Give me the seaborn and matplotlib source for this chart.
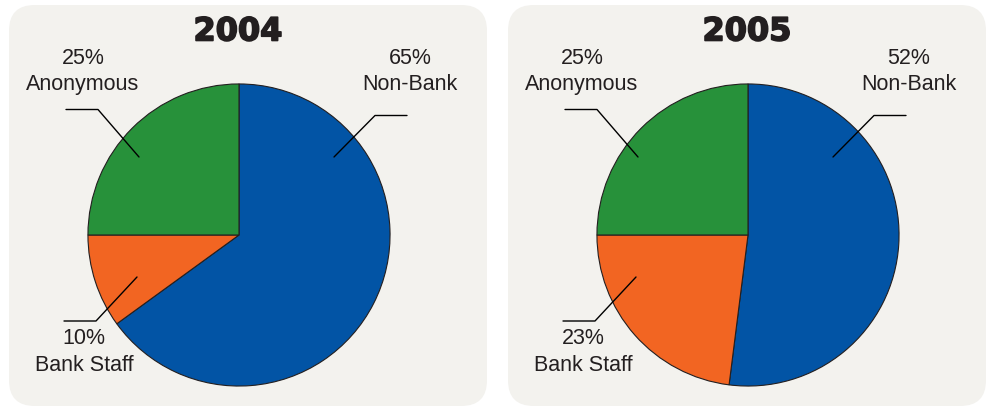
import matplotlib
matplotlib.use("Agg")
import matplotlib.pyplot as plt
from matplotlib.patches import FancyBboxPatch
from matplotlib.lines import Line2D
import matplotlib.patheffects as pe
import seaborn as sns

# ---- data ----
years = ["2004", "2005"]
categories = ["Non-Bank", "Bank Staff", "Anonymous"]
values_2004 = [65, 10, 25]
values_2005 = [52, 23, 25]
values = [values_2004, values_2005]

sns.set_style("white")
plt.rcParams["font.family"] = ["Liberation Sans", "DejaVu Sans"]

colors = ["#0254a5", "#f26522", "#27913a"]
TEXT = "#231f20"
PANEL = "#f3f2ee"

W, H = 987, 407
fig = plt.figure(figsize=(W / 100, H / 100), dpi=100)
fig.patch.set_facecolor("white")


def fx(x):
    return x / W


def fy(y):
    return 1 - y / H


# layout (pixel positions relative to panel left edge)
panels_x = [9, 508]
panel_w = 478
pie_cx_off = [230, 240]
pie_cy = 235
pie_r = 151.5

# label layout relative to panel left edge: (x_center, baseline_pct, baseline_name)
label_pos = {
    "Anonymous": (74, 64, 90),
    "Non-Bank": (401, 64, 90),
    "Bank Staff": (75, 344, 371),
}
# leader lines relative to panel left edge
leaders = {
    "Anonymous": [(57, 109.5), (89, 109.5), (130, 157)],
    "Non-Bank": [(398, 115.5), (366, 115.5), (325, 157)],
    "Bank Staff": [(128, 277), (87, 321), (55, 321)],
}

for i, year in enumerate(years):
    px = panels_x[i]
    # rounded panel background
    rect = FancyBboxPatch((fx(px), fy(406)), fx(panel_w), 401 / H,
                          boxstyle="round,pad=0,rounding_size=0.026",
                          mutation_aspect=W / H,
                          transform=fig.transFigure, facecolor=PANEL,
                          edgecolor="none", zorder=-5)
    fig.patches.append(rect)

    cx = px + pie_cx_off[i]
    ax = fig.add_axes([fx(cx - pie_r), fy(pie_cy + pie_r),
                       fx(2 * pie_r), 2 * pie_r / H])
    ax.set_zorder(2)
    ax.pie(values[i], colors=colors, startangle=90, counterclock=False,
           radius=1, wedgeprops=dict(edgecolor=TEXT, linewidth=0.8))
    ax.set_xlim(-1.003, 1.003)
    ax.set_ylim(-1.003, 1.003)
    ax.set_aspect("auto")
    ax.axis("off")
    ax.patch.set_visible(False)

    fig.text(fx(cx - 1), fy(32), year, ha="center", va="center",
             fontsize=23, fontweight="bold", family="DejaVu Sans", color=TEXT,
             path_effects=[pe.withStroke(linewidth=1.2, foreground=TEXT)])

    for cat, v in zip(categories, values[i]):
        lx, b1, b2 = label_pos[cat]
        fig.text(fx(px + lx), fy(b1), f"{v}%", ha="center", va="baseline",
                 fontsize=15.5, color=TEXT)
        fig.text(fx(px + lx), fy(b2), cat, ha="center", va="baseline",
                 fontsize=15.5, color=TEXT)
        pts = leaders[cat]
        fig.lines.append(Line2D([fx(px + p[0]) for p in pts],
                                [fy(p[1]) for p in pts],
                                transform=fig.transFigure, color="black",
                                linewidth=1.0, zorder=10))

fig.savefig("out.png", dpi=100, facecolor="white")
